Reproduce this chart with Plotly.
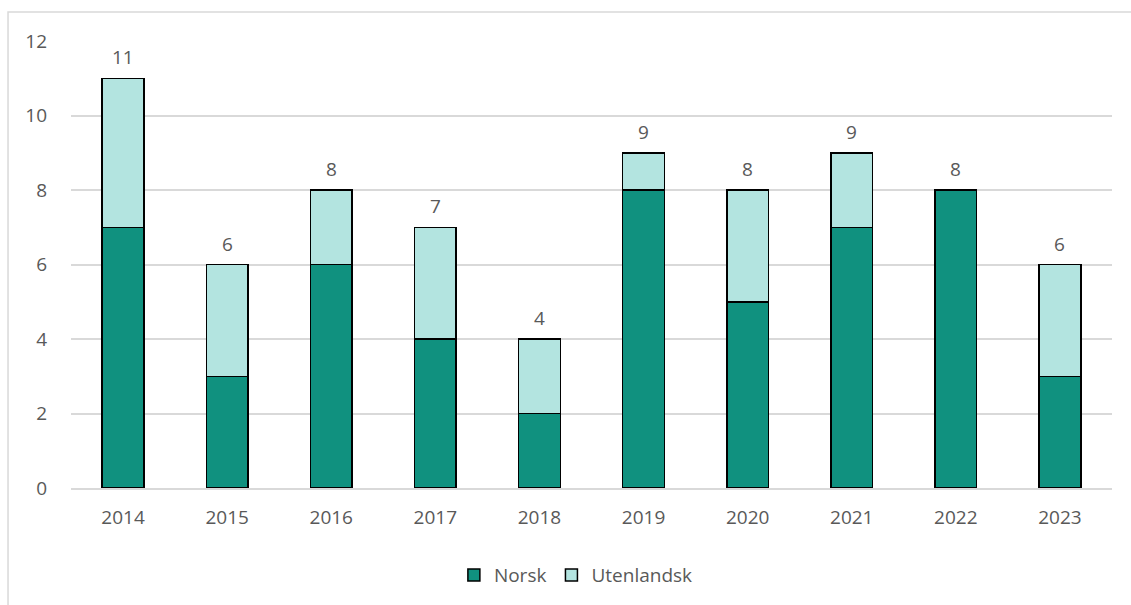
import plotly.graph_objects as go

years = ["2014", "2015", "2016", "2017", "2018", "2019", "2020", "2021", "2022", "2023"]
norsk = [7, 3, 6, 4, 2, 8, 5, 7, 8, 3]
utenlandsk = [4, 3, 2, 3, 2, 1, 3, 2, 0, 3]
totals = [n + u for n, u in zip(norsk, utenlandsk)]

TEXT = "#595959"
FONT = "Open Sans"
SIZE = 19

fig = go.Figure()
fig.add_trace(go.Bar(x=years, y=norsk, name="Norsk",
                     marker=dict(color="#10917F", line=dict(color="black", width=1.5))))
fig.add_trace(go.Bar(x=years, y=utenlandsk, name="Utenlandsk",
                     marker=dict(color="#B3E4E0", line=dict(color="black", width=1.5))))

# total labels above each stack (x given as category index)
for i, t in enumerate(totals):
    fig.add_annotation(x=i, y=t, text=str(t), showarrow=False, yshift=21,
                       font=dict(size=SIZE, color=TEXT, family=FONT))

# outer chart border
fig.add_shape(type="rect", xref="paper", yref="paper",
              x0=-0.0605, x1=1.05, y0=-0.35, y1=1.0647,
              line=dict(color="#D9D9D9", width=1.5), fillcolor="rgba(0,0,0,0)", layer="below")

fig.update_layout(
    barmode="stack",
    bargap=0.6,
    width=1131, height=605,
    margin=dict(l=71, r=19, t=41, b=116),
    plot_bgcolor="white", paper_bgcolor="white",
    font=dict(family=FONT, size=SIZE, color=TEXT),
    showlegend=True,
    legend=dict(orientation="h", x=0.485, xanchor="center", y=-0.15, yanchor="top",
                font=dict(size=SIZE, color=TEXT), itemwidth=30, traceorder="normal"),
    xaxis=dict(type="category", range=[-0.5, len(years) - 0.5], showgrid=False,
               showline=True, linecolor="#D9D9D9", linewidth=1.5,
               ticks="", ticklabelstandoff=11, tickfont=dict(size=SIZE, color=TEXT)),
    yaxis=dict(range=[0, 12], dtick=2, showgrid=True, gridcolor="#D9D9D9", gridwidth=1.5,
               zeroline=False, ticks="", ticklabelstandoff=23,
               tickfont=dict(size=SIZE, color=TEXT)),
)

fig.write_html("out.html")
